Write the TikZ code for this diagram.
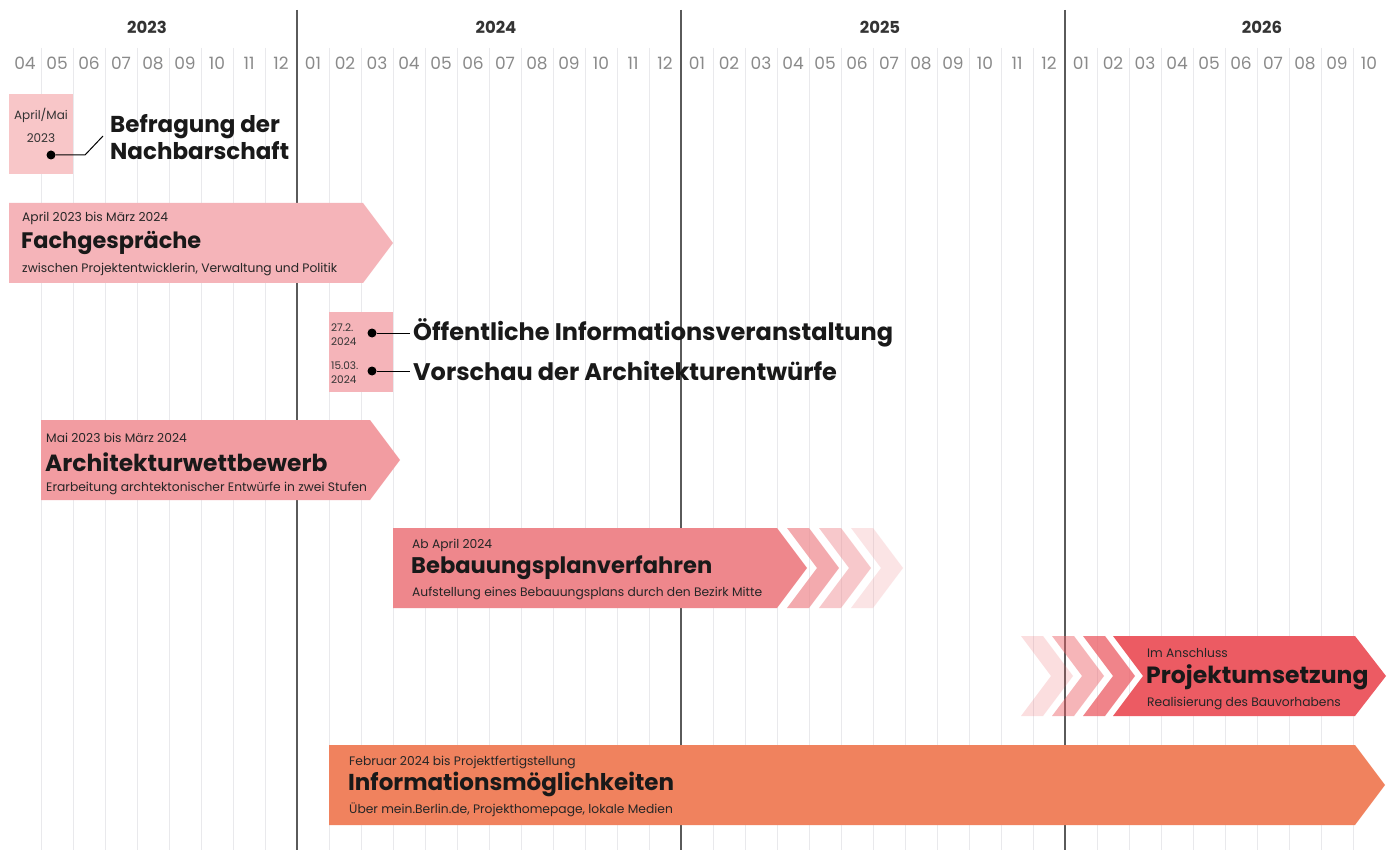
\documentclass[tikz,border=0pt]{standalone}
\usepackage{fontspec}
\setmainfont{Poppins}
\usetikzlibrary{positioning}

\definecolor{grau}{HTML}{8A8A8A}
\definecolor{gitter}{HTML}{E9E9EC}
\definecolor{jahrgrau}{HTML}{5A5A5A}
\definecolor{rosaA}{HTML}{F8C6C8}
\definecolor{rosaB}{HTML}{F5B4B9}
\definecolor{rosaC}{HTML}{F29CA1}
\definecolor{rosaD}{HTML}{EE878C}
\definecolor{rotE}{HTML}{EC5B63}
\definecolor{orangeF}{HTML}{F0825E}

% Pfeil: links, rechts (Koerper), oben, unten
\newcommand{\pfeil}[4]{(#1,#3) -- (#2,#3) -- ({#2+30},{(#3+#4)/2}) -- (#2,#4) -- (#1,#4) -- cycle}
% Winkel (Chevron): links, oben, unten
\newcommand{\winkel}[3]{(#1,#2) -- ({#1+22},#2) -- ({#1+52},{(#2+#3)/2}) -- ({#1+22},#3) -- (#1,#3) -- ({#1+30},{(#2+#3)/2}) -- cycle}

\begin{document}
\begin{tikzpicture}[x=1pt,y=-1pt,
    monat/.style={text=grau,font=\fontsize{17}{17}\selectfont},
    jahr/.style={text=black!80,font=\fontsize{16.5}{16.5}\selectfont\bfseries},
    datum/.style={anchor=west,inner sep=0pt,text=black!85,font=\fontsize{12.3}{13}\selectfont},
    titel/.style={anchor=west,inner sep=0pt,text=black!90,font=\fontsize{23}{23}\selectfont\bfseries},
    unter/.style={anchor=west,inner sep=0pt,text=black!85,font=\fontsize{12.3}{13}\selectfont},
    klein/.style={inner sep=0pt,text=black!80,font=\fontsize{12}{13}\selectfont},
    punkt/.style={circle,fill=black,inner sep=0pt,minimum size=9pt},
    ereignis/.style={anchor=west,inner sep=0pt,inner xsep=3pt,text=black!90,font=\fontsize{24}{27}\selectfont\bfseries}]
\useasboundingbox (0,0) rectangle (1392,850);
\fill[white] (0,0) rectangle (1392,850);

% Raster der Monate
\foreach \k in {1,...,42}
    \draw[gitter,line width=1pt] (9+32*\k,48) -- (9+32*\k,850);
\foreach \m [count=\i from 0] in {04,05,06,07,08,09,10,11,12,01,02,03,04,05,06,07,08,09,10,11,12,01,02,03,04,05,06,07,08,09,10,11,12,01,02,03,04,05,06,07,08,09,10}
    \node[monat] (m\i) at (25+32*\i,63) {\m};

% Jahre
\foreach \x in {297,681,1065}
    \draw[jahrgrau,line width=1.3pt] (\x,10) -- (\x,850);
\node[jahr] (j2023) at (147,27) {2023};
\node[jahr] (j2024) at (496,27) {2024};
\node[jahr] (j2025) at (880,27) {2025};
\node[jahr] (j2026) at (1262,27) {2026};

% Befragung der Nachbarschaft
\fill[rosaA] (9,94) rectangle (73,174);
\node[klein] (d1) at (41,115) {April/Mai};
\node[klein] (d2) at (41,138) {2023};
\node[punkt] (p1) at (51,155) {};
\coordinate (k1) at (85,155);
\node[ereignis,font=\fontsize{23}{27}\selectfont\bfseries,align=left] (befr) at (107,137) {Befragung der\\Nachbarschaft};
\draw[line width=1pt] (p1) -- (k1) -- ([xshift=-4pt,yshift=1pt]befr.west);

% Fachgespraeche
\fill[rosaB] \pfeil{9}{363}{203}{283};
\node[datum] (fd) at (22,218) {April 2023 bis März 2024};
\node[titel,font=\fontsize{22.4}{23}\selectfont\bfseries] (ft) at (21,243) {Fachgespräche};
\node[unter] (fu) at (22,269) {zwischen Projektentwicklerin, Verwaltung und Politik};

% Informationsveranstaltung und Vorschau
\fill[rosaB] (329,312) rectangle (393,392);
\node[klein,anchor=west,align=left,font=\fontsize{10.5}{14}\selectfont] (d3) at (331,335) {27.2.\\2024};
\node[klein,anchor=west,align=left,font=\fontsize{10.5}{14}\selectfont] (d4) at (331,373) {15.03.\\2024};
\node[punkt] (p2) at (372,333) {};
\node[punkt] (p3) at (372,371) {};
\node[ereignis] (info) at (410,333) {Öffentliche Informationsveranstaltung};
\node[ereignis] (vors) at (410,371) {Vorschau der Architekturentwürfe};
\draw[line width=1pt] (p2) -- (info);
\draw[line width=1pt] (p3) -- (vors);

% Architekturwettbewerb
\fill[rosaC] \pfeil{41}{370}{420}{500};
\node[datum] (ad) at (46,438) {Mai 2023 bis März 2024};
\node[titel,font=\fontsize{23.4}{24}\selectfont\bfseries] (at) at (45,462) {Architekturwettbewerb};
\node[unter] (au) at (46,488) {Erarbeitung archtektonischer Entwürfe in zwei Stufen};

% Bebauungsplanverfahren
\fill[rosaD] \pfeil{393}{777}{528}{608};
\foreach \a/\o in {787/0.7,819/0.45,851/0.22}
    \fill[rosaD,opacity=\o] \winkel{\a}{528}{608};
\node[datum] (bd) at (412,545) {Ab April 2024};
\node[titel,font=\fontsize{22.6}{23}\selectfont\bfseries] (bt) at (411,568) {Bebauungsplanverfahren};
\node[unter] (bu) at (412,593) {Aufstellung eines Bebauungsplans durch den Bezirk Mitte};

% Projektumsetzung
\foreach \a/\o in {1021/0.2,1052/0.45,1083/0.75}
    \fill[rotE,opacity=\o] \winkel{\a}{636}{716};
\fill[rotE] (1113,636) -- (1355,636) -- (1386,676) -- (1355,716) -- (1113,716) -- (1143,676) -- cycle;
\node[datum] (pd) at (1147,653) {Im Anschluss};
\node[titel,font=\fontsize{23.5}{24}\selectfont\bfseries] (pt) at (1146,677) {Projektumsetzung};
\node[unter] (pu) at (1147,703) {Realisierung des Bauvorhabens};

% Informationsmoeglichkeiten
\fill[orangeF] \pfeil{329}{1355}{745}{825};
\node[datum] (id) at (349,762) {Februar 2024 bis Projektfertigstellung};
\node[titel] (it) at (348,784) {Informationsmöglichkeiten};
\node[unter] (iu) at (349,810) {Über mein.Berlin.de, Projekthomepage, lokale Medien};
\end{tikzpicture}
\end{document}
